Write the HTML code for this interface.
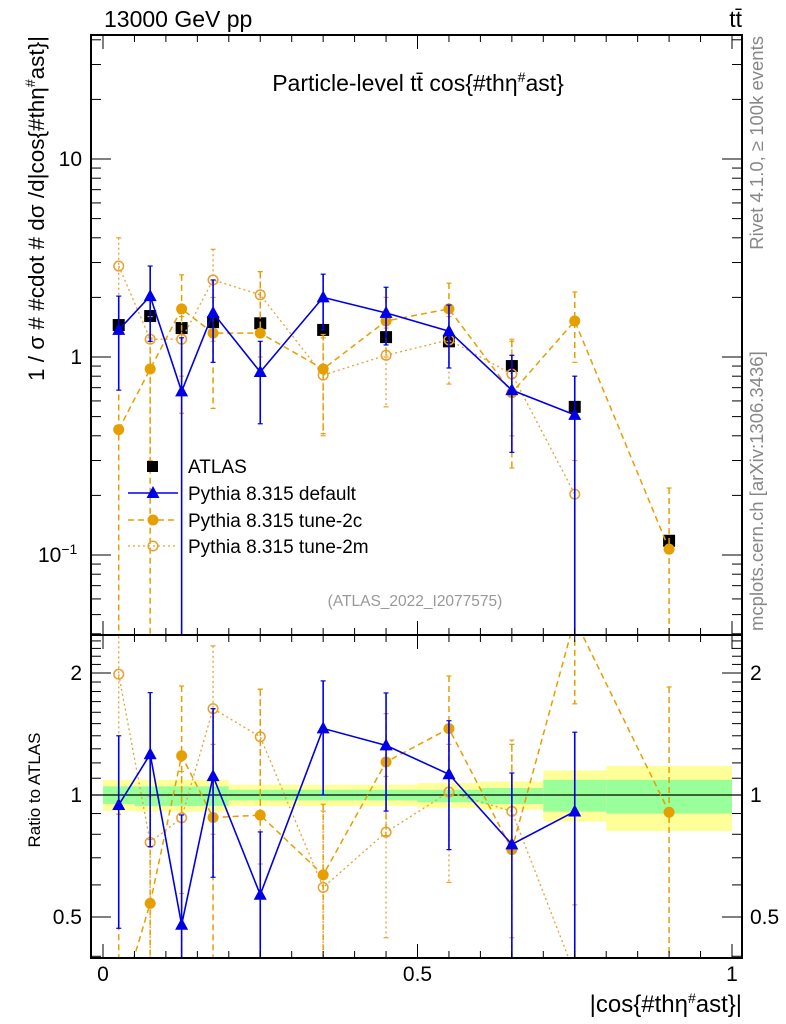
<!DOCTYPE html>
<html><head><meta charset="utf-8"><style>
body{margin:0;background:#fff;overflow:hidden;}
svg{display:block;font-family:"Liberation Sans",sans-serif;}
</style></head><body>
<svg id="c" width="786" height="1024" xmlns="http://www.w3.org/2000/svg"></svg>
<script>
const xCenters=[0.025,0.075,0.125,0.175,0.25,0.35,0.45,0.55,0.65,0.75,0.9];
const binEdges=[0,0.05,0.1,0.15,0.2,0.3,0.4,0.5,0.6,0.7,0.8,1.0];
const atlasVals=[1.45,1.61,1.40,1.50,1.48,1.37,1.26,1.20,0.90,0.56,0.118];
const defVals=[1.37,2.03,0.67,1.67,0.84,2.0,1.67,1.35,0.68,0.51,null];
const defHi=[2.03,2.88,1.25,2.45,1.2,2.62,2.25,1.83,1.02,0.8,null];
const defLo=[0.68,1.2,0.01,0.94,0.46,1.37,1.15,0.88,0.33,0.01,null];
const c2Vals=[0.43,0.87,1.75,1.32,1.32,0.87,1.52,1.75,0.66,1.52,0.107];
const c2Hi=[1.3,1.25,2.6,2.0,2.7,1.3,2.0,2.36,1.2,2.13,0.218];
const c2Lo=[0.01,0.01,0.52,0.55,0.85,0.41,1.0,1.2,0.275,0.94,0.01];
const m2Vals=[2.88,1.23,1.23,2.45,2.06,0.81,1.02,1.22,0.82,0.203,null];
const m2Hi=[4.0,1.6,1.6,3.5,2.7,1.25,1.4,1.6,1.23,0.3,null];
const m2Lo=[1.4,0.3,0.8,1.2,1.0,0.4,0.56,0.73,0.4,0.01,null];
const yelHi=[1.089,1.09,1.09,1.09,1.06,1.06,1.06,1.07,1.08,1.15,1.18];
const yelLo=[0.913,0.91,0.91,0.91,0.94,0.94,0.94,0.93,0.92,0.86,0.815];
const grnHi=[1.05,1.05,1.05,1.05,1.03,1.03,1.03,1.03,1.04,1.09,1.09];
const grnLo=[0.95,0.94,0.94,0.94,0.97,0.97,0.97,0.96,0.95,0.91,0.90];
const mainTicks=[["10",10],["1",1]];
const ratioTicks=[["2",2],["1",1],["0.5",0.5]];
const xTicks=[["0",0],["0.5",0.5],["1",1]];

const L=91,R=742,T=35,M=635,B=958;
const X=v=>103+v*629;
const Y=v=>357-198*Math.log10(v);
const YR=v=>795-122*Math.log2(v);
const svg=document.getElementById('c');
const NS='http://www.w3.org/2000/svg';
function mk(tag,at,parent){const e=document.createElementNS(NS,tag);for(const k in at)e.setAttribute(k,at[k]);(parent||svg).appendChild(e);return e;}
function clip(id,y0,y1){const cp=mk('clipPath',{id:id});mk('rect',{x:L,y:y0,width:R-L,height:y1-y0},cp);}
clip('cm',T,M);clip('cr',M,B);
const gm=mk('g',{'clip-path':'url(#cm)'});

const gr=mk('g',{'clip-path':'url(#cr)'});


for(let i=0;i<xCenters.length;i++){
 const x0=X(binEdges[i]),x1=X(binEdges[i+1]);
 const y=mk('rect',{x:x0,y:YR(yelHi[i]),width:x1-x0,height:YR(yelLo[i])-YR(yelHi[i]),fill:'#ffff99'},gr);
 
 const g=mk('rect',{x:x0,y:YR(grnHi[i]),width:x1-x0,height:YR(grnLo[i])-YR(grnHi[i]),fill:'#99ff99'},gr);
 
}
mk('line',{x1:L,x2:R,y1:YR(1),y2:YR(1),stroke:'#000','stroke-width':1.3},gr);

const series=[
 {name:'tune-2m',v:m2Vals,hi:m2Hi,lo:m2Lo,col:'#e8a030',dash:'2,3',mk:'open',w:1.3},
 {name:'tune-2c',v:c2Vals,hi:c2Hi,lo:c2Lo,col:'#e69f00',dash:'6,4',mk:'circ',w:1.5},
 {name:'default',v:defVals,hi:defHi,lo:defLo,col:'#0000e6',dash:'',mk:'tri',w:1.6}
];
function marker(s,x,y,g){
 let e;
 if(s.mk==='tri')e=mk('polygon',{points:`${x},${y-7} ${x-6.5},${y+5} ${x+6.5},${y+5}`,fill:s.col},g);
 else if(s.mk==='circ')e=mk('circle',{cx:x,cy:y,r:5.5,fill:s.col},g);
 else e=mk('circle',{cx:x,cy:y,r:4.8,fill:'none',stroke:s.col,'stroke-width':1.5},g);
 
}
atlasVals.forEach((v,i)=>{
 const r=mk('rect',{x:X(xCenters[i])-6,y:Y(v)-6,width:12,height:12,fill:'#000'},gm);
 
});
series.forEach(s=>{
 for(const [g,fy,ratio] of [[gm,Y,false],[gr,YR,true]]){
  const pts=[];
  s.v.forEach((v,i)=>{
   if(v==null)return;
   const d=ratio?atlasVals[i]:1;
   const x=X(xCenters[i]);
   pts.push(x+','+fy(v/d));
   const l=mk('line',{x1:x,x2:x,y1:fy(s.hi[i]/d),y2:fy(Math.max(s.lo[i],0.001)/d),stroke:s.col,'stroke-width':s.w,'stroke-dasharray':s.dash},g);
   
   for(const yy of [s.hi[i],s.lo[i]]){mk('line',{x1:x-2.5,x2:x+2.5,y1:fy(yy/d),y2:fy(yy/d),stroke:s.col,'stroke-width':1.2},g);}
  });
  const pl=mk('polyline',{points:pts.join(' '),fill:'none',stroke:s.col,'stroke-width':s.w,'stroke-dasharray':s.dash},g);
  
  s.v.forEach((v,i)=>{if(v==null)return;const d=ratio?atlasVals[i]:1;marker(s,X(xCenters[i]),fy(v/d),g);});
 }
});

const f1=mk('rect',{x:L,y:T,width:R-L,height:M-T,fill:'none',stroke:'#000','stroke-width':2});

const f2=mk('rect',{x:L,y:M,width:R-L,height:B-M,fill:'none',stroke:'#000','stroke-width':2});

for(let k=0;k<=20;k++){const v=k*0.05,x=X(v),len=(k%10===0)?14:7;
 mk('line',{x1:x,x2:x,y1:B,y2:B-len,stroke:'#000','stroke-width':1});
 mk('line',{x1:x,x2:x,y1:T,y2:T+len,stroke:'#000','stroke-width':1});
 mk('line',{x1:x,x2:x,y1:M,y2:M-len,stroke:'#000','stroke-width':1});
 mk('line',{x1:x,x2:x,y1:M,y2:M+len,stroke:'#000','stroke-width':1});
}
xTicks.forEach(([t,v])=>{const e=mk('text',{x:X(v),y:981,'font-size':21,'text-anchor':'middle'});e.textContent=t;
 });
for(let dec=-2;dec<=1;dec++)for(let m=1;m<=9;m++){const v=m*Math.pow(10,dec);const y=Y(v);if(y<T||y>M)continue;
 const len=m===1?20:10;
 mk('line',{x1:L,x2:L+len,y1:y,y2:y,stroke:'#000','stroke-width':1});
 mk('line',{x1:R,x2:R-len,y1:y,y2:y,stroke:'#000','stroke-width':1});}
mainTicks.forEach(([t,v])=>{const e=mk('text',{x:82,y:Y(v)+7,'font-size':21,'text-anchor':'end'});e.textContent=t;
 });
{const e=mk('text',{x:38,y:Y(0.1)+7,'font-size':21});e.innerHTML='10<tspan dy="-8" font-size="14">−1</tspan>';
 }
for(let v=0.4;v<=2.5;v+=0.1){const y=YR(v);if(y<M||y>B)continue;const maj=[0.5,1,2].some(q=>Math.abs(q-v)<1e-6);const len=maj?20:10;
 mk('line',{x1:L,x2:L+len,y1:y,y2:y,stroke:'#000','stroke-width':1});
 mk('line',{x1:R,x2:R-len,y1:y,y2:y,stroke:'#000','stroke-width':1});}
ratioTicks.forEach(([t,v])=>{
 const a=mk('text',{x:82,y:YR(v)+7,'font-size':21,'text-anchor':'end'});a.textContent=t;
 
 const b=mk('text',{x:750,y:YR(v)+7,'font-size':21});b.textContent=t;
 });

function txt(s,at,name){const e=mk('text',at);e.innerHTML=s;return e;}
txt('13000 GeV pp',{x:104,y:27,'font-size':23},'energy-label');
txt('tt̄',{x:742,y:27,'font-size':23,'text-anchor':'end'},'process-label');
txt('Particle-level tt̄ cos{#thη<tspan dy="-9" font-size="14">#</tspan><tspan dy="9">ast}</tspan>',{x:418,y:91,'font-size':23,'text-anchor':'middle'},'plot-title');
txt('1 / σ # #cdot # dσ /d|cos{#thη<tspan dy="-9" font-size="14">#</tspan><tspan dy="9">ast}|</tspan>',{x:0,y:0,'font-size':22.5,'text-anchor':'end',transform:'translate(44,36) rotate(-90)'},'y-axis-title');
txt('Ratio to ATLAS',{x:0,y:0,'font-size':17,'text-anchor':'middle',transform:'translate(40,790) rotate(-90)'},'ratio-axis-title');
txt('|cos{#thη<tspan dy="-9" font-size="14">#</tspan><tspan dy="9">ast}|</tspan>',{x:742,y:1012,'font-size':24,'text-anchor':'end'},'x-axis-title');
txt('Rivet 4.1.0, ≥ 100k events',{x:0,y:0,'font-size':18.5,fill:'#888','text-anchor':'end',transform:'translate(763,36) rotate(-90)'},'rivet-label');
txt('mcplots.cern.ch [arXiv:1306.3436]',{x:0,y:0,'font-size':18.5,fill:'#888','text-anchor':'start',transform:'translate(763,631) rotate(-90)'},'mcplots-label');
txt('(ATLAS_2022_I2077575)',{x:415,y:606,'font-size':15.5,fill:'#999','text-anchor':'middle'},'analysis-id');
const lg=mk('g',{});
const rows=[466,493,520,546];
mk('rect',{x:147,y:rows[0]-5,width:11,height:11,fill:'#000'},lg);
txt('ATLAS',{x:188,y:rows[0]+7,'font-size':19},'legend-entry-atlas');
const legS=[series[2],series[1],series[0]];
legS.forEach((s,k)=>{const y=rows[k+1];
 mk('line',{x1:128,x2:178,y1:y,y2:y,stroke:s.col,'stroke-width':s.w,'stroke-dasharray':s.dash},lg);
 marker(s,153,y,lg);
 txt('Pythia 8.315 '+s.name,{x:188,y:y+7,'font-size':19},'legend-entry-'+s.name);
});
</script>
</body></html>
